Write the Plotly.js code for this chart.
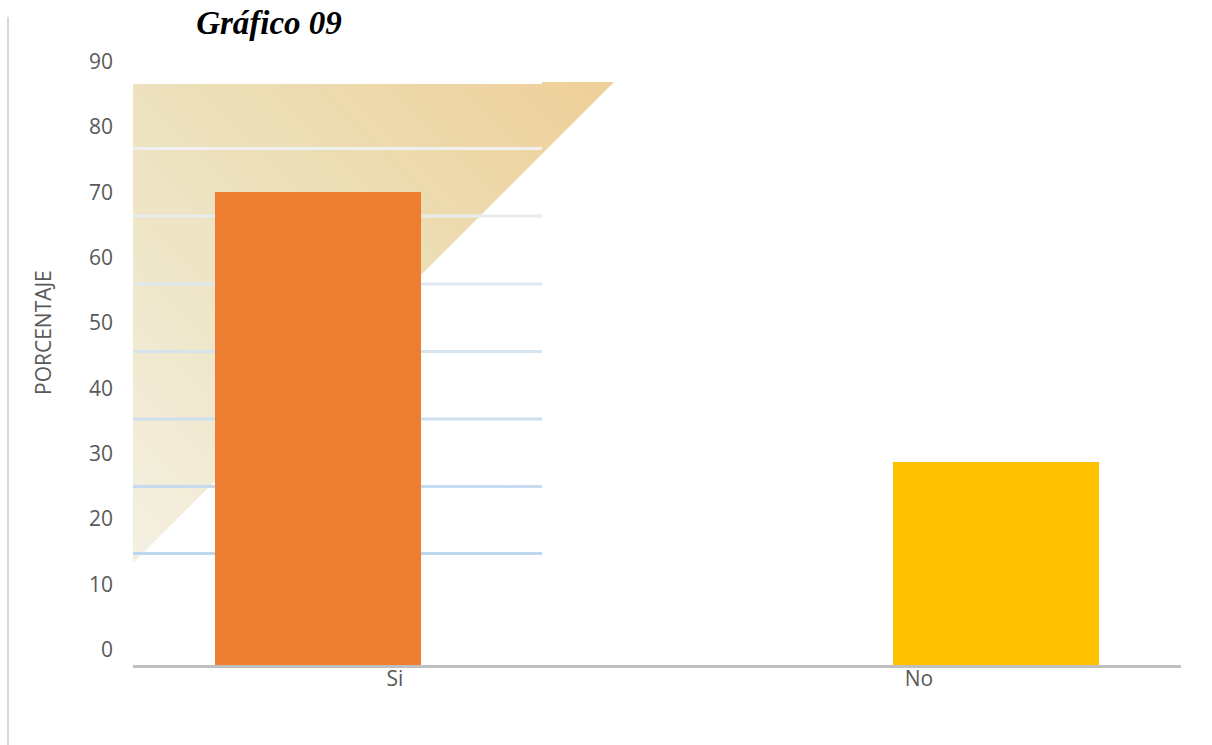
<!DOCTYPE html>
<html>
<head>
<meta charset="utf-8">
<script src="https://cdn.plot.ly/plotly-3.0.1.min.js"></script>
<style>
html, body { margin: 0; padding: 0; background: #ffffff; }
#chart { width: 1212px; height: 745px; }
</style>
</head>
<body>
<div id="chart"></div>
<script>
// ---- data ----
const categories = ['Si', 'No'];
const values = [70, 30];
const barColors = ['#ED7D31', '#FFC000'];
const yTickValues = [0, 10, 20, 30, 40, 50, 60, 70, 80, 90];
const chartTitle = 'Gráfico 09';
const yTitle = 'PORCENTAJE';

// ---- figure geometry ----
const W = 1212, H = 745;
const M = { l: 133, r: 31, t: 50, b: 80 };
const PW = W - M.l - M.r, PH = H - M.t - M.b;

// decorative background (triangle with gradient and stripes)
const stripeYs = [148.5, 216, 284, 351.5, 419, 486.5, 553.5];
let stripes = stripeYs.map(function (y) {
  return '<rect x="133" y="' + (y - 1.5) + '" width="409" height="3" fill="url(#lg)"/>';
}).join('');
const svg =
  '<svg xmlns="http://www.w3.org/2000/svg" width="' + W + '" height="' + H + '" viewBox="0 0 ' + W + ' ' + H + '">' +
  '<defs>' +
  '<linearGradient id="tg" x1="133" y1="563" x2="614" y2="82" gradientUnits="userSpaceOnUse">' +
  '<stop offset="0" stop-color="#f4f0e2"/><stop offset="0.55" stop-color="#ece0b9"/><stop offset="1" stop-color="#efcf98"/>' +
  '</linearGradient>' +
  '<linearGradient id="lg" x1="0" y1="146" x2="0" y2="556" gradientUnits="userSpaceOnUse">' +
  '<stop offset="0" stop-color="#f0f1ef"/><stop offset="1" stop-color="#bcd6ee"/>' +
  '</linearGradient>' +
  '</defs>' +
  '<path d="M133,84 L542,84 L542,82 L614,82 L133,563 Z" fill="url(#tg)"/>' +
  stripes +
  '<rect x="7" y="17" width="2" height="728" fill="#d9d9d9"/>' +
  '</svg>';
const svgUri = 'data:image/svg+xml;charset=utf-8,' + encodeURIComponent(svg);

const barTrace = {
  type: 'bar',
  x: categories,
  y: values,
  marker: { color: barColors },
  width: 0.393,
  offset: [-0.3435, -0.0496],
  xaxis: 'x',
  yaxis: 'y',
  hoverinfo: 'x+y'
};
// empty trace so the label axis (y2) is registered and drawn
const axisTrace = {
  type: 'scatter', mode: 'markers',
  x: [], y: [],
  xaxis: 'x', yaxis: 'y2',
  showlegend: false, hoverinfo: 'skip'
};

const fontFam = '"Open Sans", "Noto Sans", sans-serif';

const layout = {
  width: W,
  height: H,
  margin: M,
  paper_bgcolor: 'rgba(0,0,0,0)',
  plot_bgcolor: 'rgba(0,0,0,0)',
  showlegend: false,
  bargap: 0,
  title: {
    text: chartTitle,
    font: { family: '"Liberation Serif", "Times New Roman", serif', size: 33, color: '#000000', weight: 'bold', style: 'italic' },
    xref: 'container', x: 269 / W, xanchor: 'center',
    yref: 'container', y: 1 - 22 / H, yanchor: 'middle'
  },
  xaxis: {
    type: 'category',
    range: [-0.5, 1.5],
    showline: true,
    linecolor: '#BFBFBF',
    linewidth: 3,
    showgrid: false,
    zeroline: false,
    ticks: '',
    ticklabelstandoff: -7,
    tickfont: { family: fontFam, size: 21, color: '#595959' },
    fixedrange: true
  },
  // axis used by the bars (hidden)
  yaxis: {
    range: [0, 91.0],
    showticklabels: false,
    showgrid: false,
    zeroline: false,
    showline: false,
    ticks: '',
    fixedrange: true
  },
  // axis that carries the printed tick labels
  yaxis2: {
    overlaying: 'y',
    anchor: 'x',
    side: 'left',
    range: [-2.342, 91.79],
    tickmode: 'array',
    tickvals: yTickValues,
    ticktext: yTickValues.map(String),
    showgrid: false,
    zeroline: false,
    showline: false,
    ticks: '',
    ticklabelstandoff: 19,
    tickfont: { family: fontFam, size: 21, color: '#595959' },
    fixedrange: true
  },
  annotations: [{
    text: yTitle,
    textangle: -90,
    xref: 'paper', yref: 'paper',
    x: (43 - M.l) / PW, y: (H - M.b - 333) / PH,
    xanchor: 'center', yanchor: 'middle',
    showarrow: false,
    font: { family: fontFam, size: 21, color: '#595959' }
  }],
  images: [{
    source: svgUri,
    xref: 'paper', yref: 'paper',
    x: -M.l / PW, y: 1 + M.t / PH,
    sizex: W / PW, sizey: H / PH,
    xanchor: 'left', yanchor: 'top',
    sizing: 'stretch',
    layer: 'below'
  }]
};

Plotly.newPlot('chart', [barTrace, axisTrace], layout, { displayModeBar: false, staticPlot: true });
</script>
</body>
</html>
